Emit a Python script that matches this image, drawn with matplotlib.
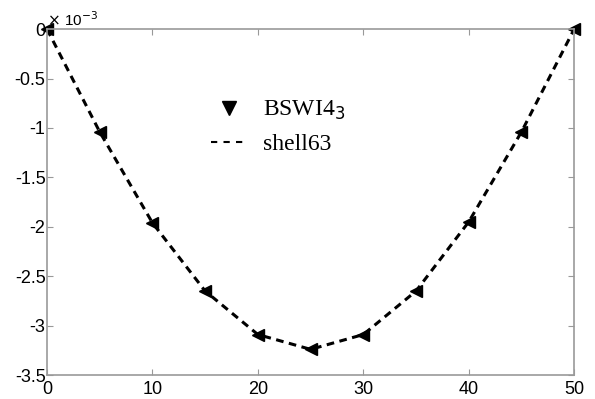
import matplotlib as mpl
import matplotlib.pyplot as plt
from matplotlib.lines import Line2D

mpl.rcParams['axes.unicode_minus'] = False
mpl.rcParams['font.family'] = 'Liberation Sans'

# deflection along the plate (x 1e-3)
x = [0, 5, 10, 15, 20, 25, 30, 35, 40, 45, 50]
bswi = [0, -1.04, -1.96, -2.65, -3.09, -3.24, -3.09, -2.65, -1.95, -1.04, 0]
shell63 = [0, -1.04, -1.96, -2.65, -3.09, -3.24, -3.09, -2.65, -1.95, -1.04, 0]

xticks = [0, 10, 20, 30, 40, 50]
yticks = [0, -0.5, -1, -1.5, -2, -2.5, -3, -3.5]
ytick_labels = ['0', '-0.5', '-1', '-1.5', '-2', '-2.5', '-3', '-3.5']

fig = plt.figure(figsize=(5.95, 3.99), dpi=100)
ax = fig.add_axes([0.079, 0.06, 0.886, 0.867])

ax.plot(x, shell63, '--', color='k', lw=2.2, dashes=(2.5, 1.8), clip_on=False)
ax.plot(x, bswi, '<', color='k', ms=9, ls='none', clip_on=False)

ax.set_xlim(0, 50)
ax.set_ylim(-3.5, 0)
ax.set_xticks(xticks)
ax.set_yticks(yticks)
ax.set_yticklabels(ytick_labels)
ax.tick_params(direction='in', length=4, color='#999999', labelsize=13,
               top=True, right=True, pad=1)
ax.tick_params(axis='x', pad=4)
for s in ax.spines.values():
    s.set_color('#999999')
    s.set_linewidth(1.2)

ax.text(0.0, 1.0, r'$\times$ 10$^{-3}$', transform=ax.transAxes,
        ha='left', va='bottom', fontsize=11)

handles = [Line2D([], [], marker='v', color='k', ls='none', ms=10),
           Line2D([], [], color='k', ls='--', lw=1.5, dashes=(3, 3))]
leg = ax.legend(handles, ['BSWI4$_3$', 'shell63'], loc='upper left',
                bbox_to_anchor=(0.27, 0.86), frameon=False,
                prop={'family': 'Liberation Serif', 'size': 17},
                handlelength=1.6, handletextpad=0.6, labelspacing=0.5)

fig.savefig('out.png', dpi=100)
